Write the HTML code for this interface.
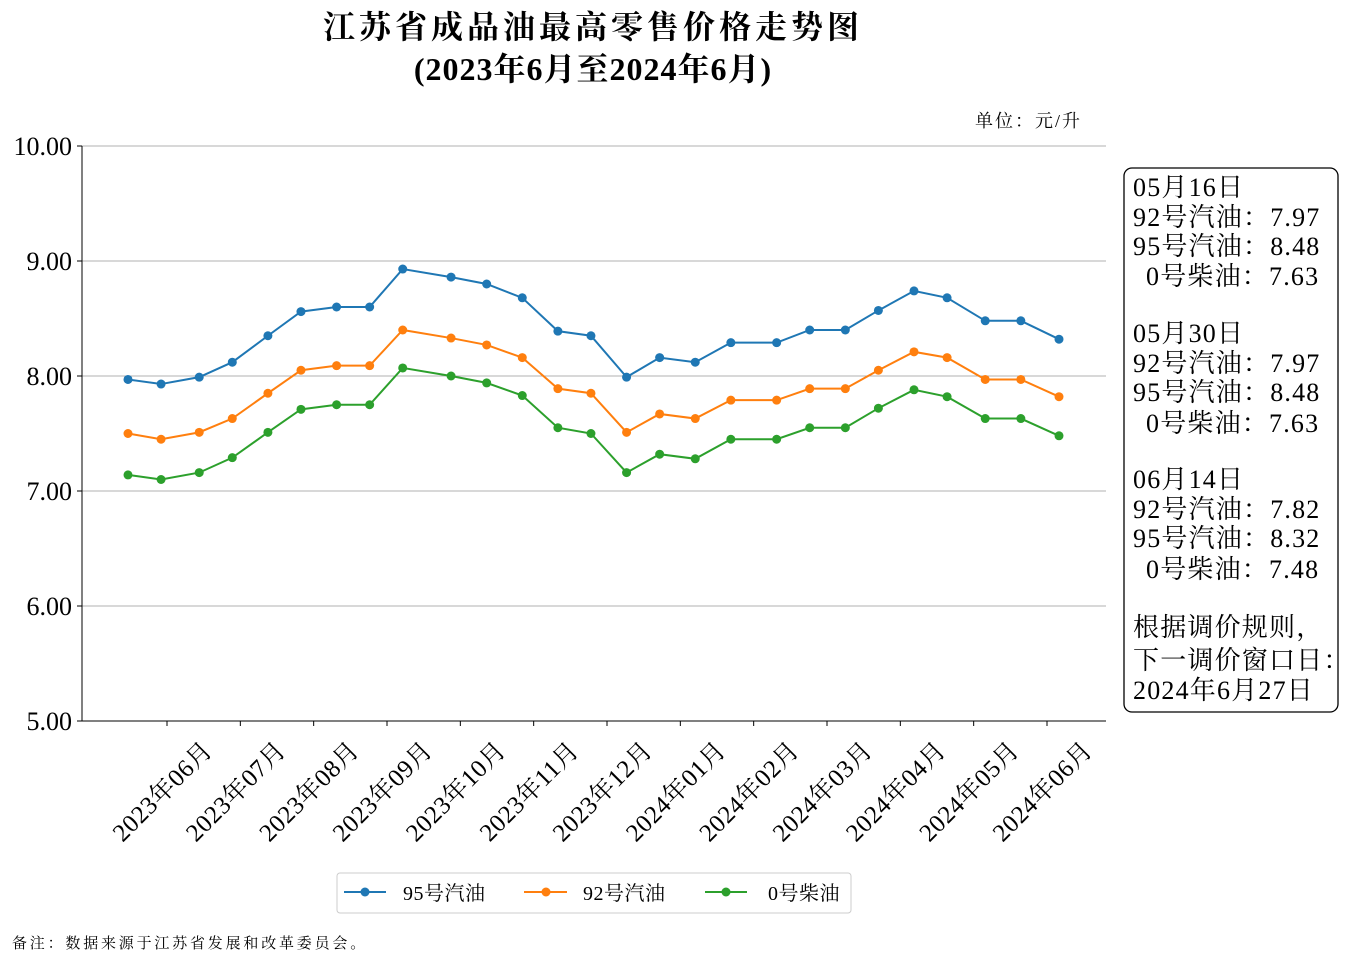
<!DOCTYPE html>
<html><head><meta charset="utf-8"><style>
body{margin:0;background:#fff;width:1364px;height:973px;overflow:hidden}
svg{font-family:"Liberation Serif","Noto Serif CJK SC",serif}
</style></head><body>
<svg id="chart" width="1364" height="973" xmlns="http://www.w3.org/2000/svg">
<text x="593" y="38" font-size="32" font-weight="bold" text-anchor="middle" letter-spacing="4">江苏省成品油最高零售价格走势图</text>
<text x="593" y="80" font-size="32" font-weight="bold" text-anchor="middle" letter-spacing="1">(2023年6月至2024年6月)</text>
<text x="1082" y="127" font-size="18" text-anchor="end" letter-spacing="2">单位：元/升</text>
<g id="grid"></g>
<g id="axes"></g>
<g id="series"></g>
<g>
<rect x="1124" y="168" width="214" height="544" rx="8" fill="#fff" stroke="#000" stroke-width="1.3"/>
<g font-size="26" letter-spacing="1.2">
<text x="1133" y="196">05月16日</text>
<text x="1133" y="226">92号汽油：7.97</text>
<text x="1133" y="255">95号汽油：8.48</text>
<text x="1146" y="285">0号柴油：7.63</text>
<text x="1133" y="342">05月30日</text>
<text x="1133" y="372">92号汽油：7.97</text>
<text x="1133" y="401">95号汽油：8.48</text>
<text x="1146" y="432">0号柴油：7.63</text>
<text x="1133" y="488">06月14日</text>
<text x="1133" y="518">92号汽油：7.82</text>
<text x="1133" y="547">95号汽油：8.32</text>
<text x="1146" y="578">0号柴油：7.48</text>
<text x="1133" y="636">根据调价规则，</text>
<text x="1133" y="669">下一调价窗口日：</text>
<text x="1133" y="699">2024年6月27日</text>
</g></g>
<g>
<rect x="337" y="873" width="514" height="40" rx="3" fill="#fff" stroke="#ccc"/>
<line x1="344" y1="892" x2="386" y2="892" stroke="#1f77b4" stroke-width="2"/><circle cx="365" cy="892" r="4.5" fill="#1f77b4"/>
<text x="403" y="900" font-size="20" letter-spacing="0.5">95号汽油</text>
<line x1="524" y1="892" x2="567" y2="892" stroke="#ff7f0e" stroke-width="2"/><circle cx="546" cy="892" r="4.5" fill="#ff7f0e"/>
<text x="583" y="900" font-size="20" letter-spacing="0.5">92号汽油</text>
<line x1="705" y1="892" x2="747" y2="892" stroke="#2ca02c" stroke-width="2"/><circle cx="726" cy="892" r="4.5" fill="#2ca02c"/>
<text x="768" y="900" font-size="20" letter-spacing="0.5">0号柴油</text>
</g>
<text x="12" y="948" font-size="15" letter-spacing="2.8">备注：数据来源于江苏省发展和改革委员会。</text>
</svg>
<script>
const dates=["2023-06-14","2023-06-27","2023-07-12","2023-07-25","2023-08-08","2023-08-21","2023-09-04","2023-09-17","2023-09-30","2023-10-19","2023-11-02","2023-11-16","2023-11-30","2023-12-13","2023-12-27","2024-01-09","2024-01-23","2024-02-06","2024-02-24","2024-03-08","2024-03-22","2024-04-04","2024-04-18","2024-05-01","2024-05-16","2024-05-30","2024-06-14"];
const p95=[7.97,7.93,7.99,8.12,8.35,8.56,8.60,8.60,8.93,8.86,8.80,8.68,8.39,8.35,7.99,8.16,8.12,8.29,8.29,8.40,8.40,8.57,8.74,8.68,8.48,8.48,8.32];
const p92=[7.50,7.45,7.51,7.63,7.85,8.05,8.09,8.09,8.40,8.33,8.27,8.16,7.89,7.85,7.51,7.67,7.63,7.79,7.79,7.89,7.89,8.05,8.21,8.16,7.97,7.97,7.82];
const p0=[7.14,7.10,7.16,7.29,7.51,7.71,7.75,7.75,8.07,8.00,7.94,7.83,7.55,7.50,7.16,7.32,7.28,7.45,7.45,7.55,7.55,7.72,7.88,7.82,7.63,7.63,7.48];
const yTicks=[5,6,7,8,9,10];
const xTickLabels=["2023年06月","2023年07月","2023年08月","2023年09月","2023年10月","2023年11月","2023年12月","2024年01月","2024年02月","2024年03月","2024年04月","2024年05月","2024年06月"];
const NS="http://www.w3.org/2000/svg";
const L=82,R=1106,T=146,B=721;
const t0=Date.parse(dates[0]),t1=Date.parse(dates[dates.length-1]);
const x=d=>128+(Date.parse(d)-t0)/(t1-t0)*(1059-128);
const y=v=>B-(v-5)/5*(B-T);
const tx=i=>167+i*(1047-167)/(xTickLabels.length-1);
function mk(tag,attrs,parent){const e=document.createElementNS(NS,tag);for(const k in attrs)e.setAttribute(k,attrs[k]);parent.appendChild(e);return e;}
const grid=document.getElementById('grid'),axes=document.getElementById('axes'),ser=document.getElementById('series');
yTicks.forEach(v=>{
 const g=mk('line',{x1:L,x2:R,y1:y(v),y2:y(v),stroke:'#b0b0b0','stroke-width':1},grid);
 
 
 mk('line',{x1:L-5,x2:L,y1:y(v),y2:y(v),stroke:'#000'},axes);
 const t=mk('text',{x:L-10,y:y(v)+9,'font-size':26,'text-anchor':'end'},axes);t.textContent=v.toFixed(2);
 
 
});
mk('line',{x1:L,x2:L,y1:T,y2:B,stroke:'#000'},axes);
mk('line',{x1:L,x2:R,y1:B,y2:B,stroke:'#000'},axes);
xTickLabels.forEach((s,i)=>{
 const xx=tx(i);
 mk('line',{x1:xx,x2:xx,y1:B,y2:B+5,stroke:'#000'},axes);
 const t=mk('text',{transform:`translate(${xx-4},792) rotate(-45)`,'font-size':25,'text-anchor':'middle','dominant-baseline':'central','letter-spacing':0.5},axes);t.textContent=s;
 
 
});
[[p95,'#1f77b4','series-95-gasoline'],[p92,'#ff7f0e','series-92-gasoline'],[p0,'#2ca02c','series-0-diesel']].forEach(([d,c,n])=>{
 const g=mk('g',{},ser);
 
 
 mk('polyline',{points:d.map((v,i)=>x(dates[i])+','+y(v)).join(' '),fill:'none',stroke:c,'stroke-width':2},g);
 d.forEach((v,i)=>{const p=mk('circle',{cx:x(dates[i]),cy:y(v),r:4.5,fill:c},g);
 
 });
});
</script>
</body></html>
